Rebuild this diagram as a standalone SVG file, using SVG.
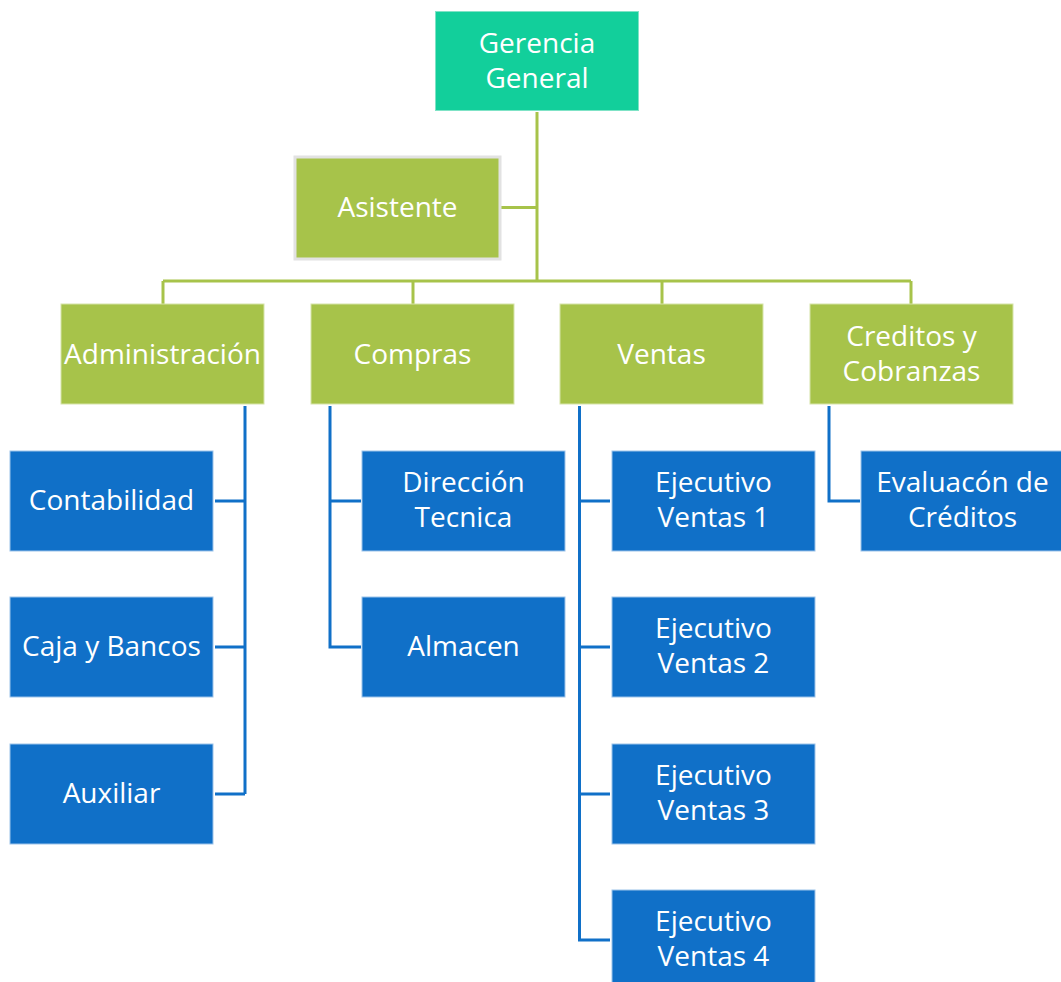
<svg xmlns="http://www.w3.org/2000/svg" width="1061" height="982" viewBox="0 0 1061 982">
  <style>
    .top { fill: #12CF9B; stroke: #7FE3C6; stroke-width: 1; }
    .mid { fill: #A7C34A; stroke: #D6E4A8; stroke-width: 1; }
    .asst { fill: #A7C34A; stroke: #E2E2E2; stroke-width: 3; }
    .leaf { fill: #1070C8; stroke: #9CC3EA; stroke-width: 1; }
    text { font-family: "Open Sans", "Liberation Sans", sans-serif; font-size: 28px; fill: #FFFFFF; text-anchor: middle; }
    .gline { fill: none; stroke: #A7C34A; stroke-width: 3; }
    .bline { fill: none; stroke: #1070C8; stroke-width: 3; }
  </style>

  <!-- connectors -->
  <g id="connectors">
    <path class="gline" d="M537 112 V281 M501 207.5 H537 M163 281 H911 M163 281 V304 M413 281 V304 M662 281 V304 M911 281 V304"/>
    <path class="bline" d="M245 406 V794 M215 501 H245 M215 647 H245 M215 794 H245"/>
    <path class="bline" d="M330 406 V647 H361 M330 501 H361"/>
    <path class="bline" d="M579.5 406 V940 H610 M579.5 501 H610 M579.5 647 H610 M579.5 794 H610"/>
    <path class="bline" d="M829 406 V501 H860"/>
  </g>

  <!-- head -->
  <g id="gerencia">
    <rect class="top" x="435.5" y="11.5" width="203" height="99"/>
    <text x="537" y="53">Gerencia</text>
    <text x="537" y="88">General</text>
  </g>
  <g id="asistente">
    <rect class="asst" x="295" y="157" width="205" height="102"/>
    <text x="397.5" y="217">Asistente</text>
  </g>

  <!-- departments -->
  <g id="administracion">
    <rect class="mid" x="61" y="304" width="203" height="100"/>
    <text x="162.5" y="364">Administración</text>
  </g>
  <g id="compras">
    <rect class="mid" x="311" y="304" width="203" height="100"/>
    <text x="412.5" y="364">Compras</text>
  </g>
  <g id="ventas">
    <rect class="mid" x="560" y="304" width="203" height="100"/>
    <text x="661.5" y="364">Ventas</text>
  </g>
  <g id="creditos">
    <rect class="mid" x="810" y="304" width="203" height="100"/>
    <text x="911.5" y="346">Creditos y</text>
    <text x="911.5" y="381">Cobranzas</text>
  </g>

  <!-- Administración staff -->
  <g id="contabilidad">
    <rect class="leaf" x="10" y="451" width="203" height="100"/>
    <text x="111.5" y="510">Contabilidad</text>
  </g>
  <g id="caja-bancos">
    <rect class="leaf" x="10" y="597" width="203" height="100"/>
    <text x="111.5" y="656">Caja y Bancos</text>
  </g>
  <g id="auxiliar">
    <rect class="leaf" x="10" y="744" width="203" height="100"/>
    <text x="111.5" y="803">Auxiliar</text>
  </g>

  <!-- Compras staff -->
  <g id="direccion-tecnica">
    <rect class="leaf" x="362" y="451" width="203" height="100"/>
    <text x="463.5" y="492">Dirección</text>
    <text x="463.5" y="527">Tecnica</text>
  </g>
  <g id="almacen">
    <rect class="leaf" x="362" y="597" width="203" height="100"/>
    <text x="463.5" y="656">Almacen</text>
  </g>

  <!-- Ventas staff -->
  <g id="ejecutivo-1">
    <rect class="leaf" x="612" y="451" width="203" height="100"/>
    <text x="713.5" y="492">Ejecutivo</text>
    <text x="713.5" y="527">Ventas 1</text>
  </g>
  <g id="ejecutivo-2">
    <rect class="leaf" x="612" y="597" width="203" height="100"/>
    <text x="713.5" y="638">Ejecutivo</text>
    <text x="713.5" y="673">Ventas 2</text>
  </g>
  <g id="ejecutivo-3">
    <rect class="leaf" x="612" y="744" width="203" height="100"/>
    <text x="713.5" y="785">Ejecutivo</text>
    <text x="713.5" y="820">Ventas 3</text>
  </g>
  <g id="ejecutivo-4">
    <rect class="leaf" x="612" y="890" width="203" height="100"/>
    <text x="713.5" y="931">Ejecutivo</text>
    <text x="713.5" y="966">Ventas 4</text>
  </g>

  <!-- Creditos staff -->
  <g id="evaluacion">
    <rect class="leaf" x="861" y="451" width="203" height="100"/>
    <text x="962.5" y="492">Evaluacón de</text>
    <text x="962.5" y="527">Créditos</text>
  </g>
</svg>
